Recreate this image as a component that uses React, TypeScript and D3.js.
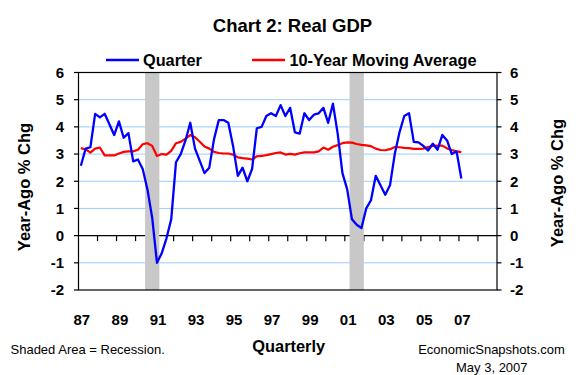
import React from "react";
import * as d3 from "d3";

const startYear = 1987;
const quarterly = [
  2.57, 3.2, 3.25, 4.48, 4.35, 4.48, 4.1, 3.7,
  4.2, 3.6, 3.77, 2.73, 2.8, 2.45, 1.7, 0.65,
  -1.0, -0.65, -0.1, 0.6, 2.7, 3.0, 3.5, 4.15,
  3.2, 2.75, 2.3, 2.5, 3.55, 4.25, 4.25, 4.15,
  3.3, 2.2, 2.5, 2.0, 2.45, 3.95, 4.0, 4.4,
  4.5, 4.4, 4.8, 4.4, 4.7, 3.8, 3.75, 4.5,
  4.25, 4.45, 4.5, 4.7, 4.15, 4.85, 3.75, 2.3,
  1.7, 0.6, 0.4, 0.28, 1.0, 1.3, 2.2, 1.85,
  1.5, 1.85, 3.0, 3.8, 4.4, 4.5, 3.45, 3.43,
  3.3, 3.13, 3.38, 3.16, 3.7, 3.5, 3.0, 3.1,
  2.1,
];
const movingAvg = [
  3.22, 3.17, 3.05, 3.2, 3.24, 2.95, 2.95, 2.95,
  3.02, 3.08, 3.1, 3.1, 3.16, 3.36, 3.4, 3.3,
  2.93, 3.0, 2.98, 3.12, 3.4, 3.45, 3.57, 3.7,
  3.62, 3.45, 3.28, 3.2, 3.08, 3.04, 3.02, 3.02,
  2.98, 2.88, 2.85, 2.83, 2.8, 2.92, 2.93, 2.96,
  3.0, 3.04, 3.06, 2.98, 3.01, 2.98, 3.03, 3.06,
  3.06, 3.06, 3.1, 3.24, 3.16, 3.27, 3.33, 3.4,
  3.43, 3.42, 3.37, 3.34, 3.32, 3.29, 3.2, 3.15,
  3.14, 3.18, 3.26, 3.25, 3.23, 3.22, 3.19, 3.19,
  3.2, 3.26, 3.3, 3.31, 3.31, 3.21, 3.15, 3.1,
  3.07,
];
// recession bands as quarter index [start, end) from 1987Q1
const recessions = [
  [14, 17],
  [57, 60],
];
const yearLabels = ["87", "89", "91", "93", "95", "97", "99", "01", "03", "05", "07"];
const yTicks = [-2, -1, 0, 1, 2, 3, 4, 5, 6];
const totalQuarters = 88;

const FONT = "Arial, 'Liberation Sans', Helvetica, sans-serif";

export default function App() {
  const left = 78.5;
  const right = 497;
  const top = 72.5;
  const bottom = 290;
  const x = d3.scaleLinear().domain([0, totalQuarters]).range([left, right]);
  const y = d3.scaleLinear().domain([-2, 6]).range([bottom, top]);
  const px = (i: number) => x(i + 0.5);

  const line = d3
    .line<number>()
    .x((_, i) => px(i))
    .y((d) => y(d));

  const yearTicks = d3.range(4, totalQuarters, 4);

  return (
    <svg
      width={580}
      height={375}
      style={{ position: "absolute", left: 0, top: 0, background: "#fff" }}
      fontFamily={FONT}
    >
      <rect x={0} y={0} width={580} height={375} fill="#fff" />
      <text x={292.5} y={32} textAnchor="middle" fontSize={18.5} fontWeight="bold">
        Chart 2: Real GDP
      </text>
      {/* legend */}
      <line x1={106} x2={139} y1={60} y2={60} stroke="#0000ff" strokeWidth={2.5} />
      <text x={143} y={66} fontSize={16.3} fontWeight="bold">Quarter</text>
      <line x1={252} x2={285} y1={60} y2={60} stroke="#ff0000" strokeWidth={2.5} />
      <text x={289.5} y={66} fontSize={16.3} fontWeight="bold">10-Year Moving Average</text>

      {/* grid */}
      {yTicks
        .filter((t) => t !== 0 && t !== -2 && t !== 6)
        .map((t) => (
          <line key={"g" + t} x1={left} x2={right} y1={y(t)} y2={y(t)} stroke="#99ccff" strokeWidth={1} />
        ))}
      {/* zero line and x ticks */}
      <line x1={left} x2={right} y1={y(0)} y2={y(0)} stroke="#000" strokeWidth={1.2} />
      {yearTicks.map((q) => (
        <line key={"xt" + q} x1={x(q)} x2={x(q)} y1={y(0)} y2={y(0) + 5.5} stroke="#000" strokeWidth={1.2} />
      ))}
      {/* recessions */}
      {recessions.map(([a, b], k) => (
        <rect key={"r" + k} x={x(a)} y={top} width={x(b) - x(a)} height={bottom - top} fill="#c8c8c8" />
      ))}
      {/* border */}
      <rect x={left} y={top} width={right - left} height={bottom - top} fill="none" stroke="#000" strokeWidth={1.2} />
      {/* y ticks and labels */}
      {yTicks.map((t) => (
        <g key={"yt" + t}>
          <line x1={left - 4.5} x2={left} y1={y(t)} y2={y(t)} stroke="#000" strokeWidth={1.2} />
          <line x1={right} x2={right + 4.5} y1={y(t)} y2={y(t)} stroke="#000" strokeWidth={1.2} />
          <text x={64} y={y(t) + 5.3} textAnchor="end" fontSize={15} fontWeight="bold">{t}</text>
          <text x={510} y={y(t) + 5.3} textAnchor="start" fontSize={15} fontWeight="bold">{t}</text>
        </g>
      ))}
      {/* series */}
      <path d={line(movingAvg) || ""} fill="none" stroke="#ff0000" strokeWidth={2.2} strokeLinejoin="round" />
      <path d={line(quarterly) || ""} fill="none" stroke="#0000ff" strokeWidth={2.3} strokeLinejoin="round" />

      {/* x labels */}
      {yearLabels.map((lab, k) => (
        <text key={lab} x={px(k * 8) + 1} y={324.5} textAnchor="middle" fontSize={15} fontWeight="bold">
          {lab}
        </text>
      ))}
      {/* axis titles */}
      <text
        transform={`translate(30,187) rotate(-90)`}
        textAnchor="middle"
        fontSize={16.5}
        fontWeight="bold"
      >
        Year-Ago % Chg
      </text>
      <text
        transform={`translate(563,183) rotate(-90)`}
        textAnchor="middle"
        fontSize={16.5}
        fontWeight="bold"
      >
        Year-Ago % Chg
      </text>
      <text x={288.7} y={352} textAnchor="middle" fontSize={16.4} fontWeight="bold">Quarterly</text>
      <text x={10.5} y={353.5} fontSize={13}>Shaded Area = Recession.</text>
      <text x={491.5} y={353.5} textAnchor="middle" fontSize={13}>EconomicSnapshots.com</text>
      <text x={491.8} y={372} textAnchor="middle" fontSize={13}>May 3, 2007</text>
    </svg>
  );
}
